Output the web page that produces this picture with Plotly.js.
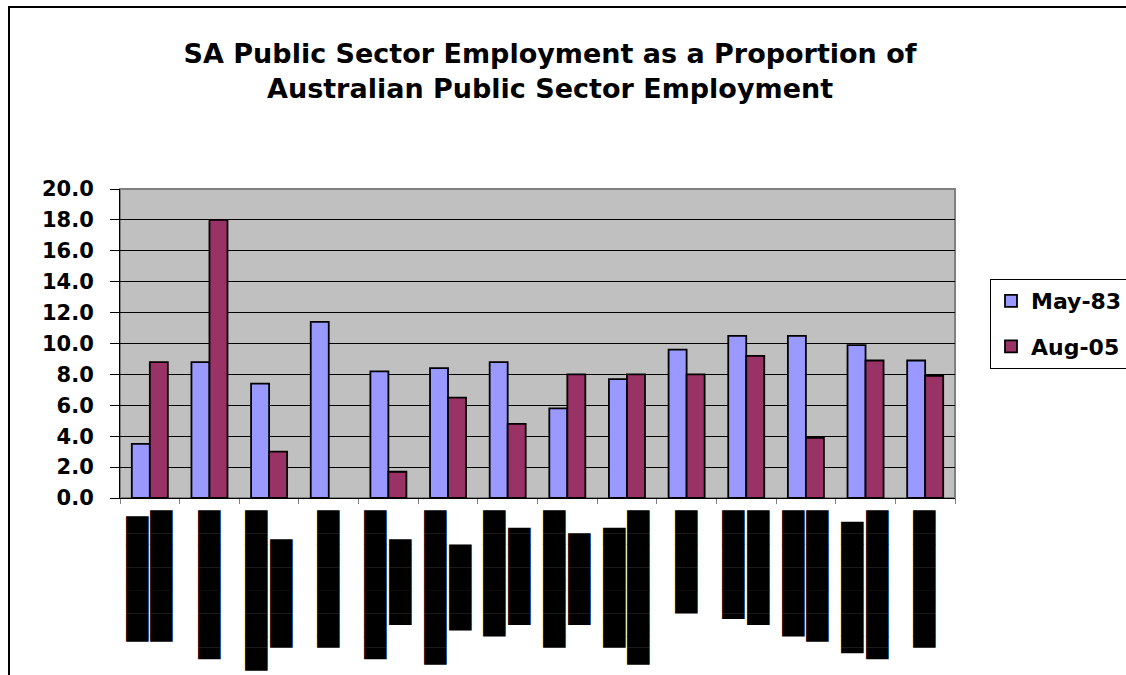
<!DOCTYPE html>
<html>
<head>
<meta charset="utf-8">
<script src="https://cdn.plot.ly/plotly-3.0.1.min.js"></script>
<style>
  html, body { margin: 0; padding: 0; background: #ffffff; overflow: hidden; }
  #chart { width: 1126px; height: 675px; position: relative; }
  #frame { position: absolute; left: 8px; top: 6px; width: 2000px; height: 2000px;
           border: 2px solid #000; pointer-events: none; }
</style>
</head>
<body>
<div id="chart"></div>
<div id="frame"></div>
<script>
// ---- data ----
var categories = ['c1','c2','c3','c4','c5','c6','c7','c8','c9','c10','c11','c12','c13','c14'];
var seriesNames = ['May-83', 'Aug-05'];
var may83 = [3.5, 8.8, 7.4, 11.4, 8.2, 8.4, 8.8, 5.8, 7.7, 9.6, 10.5, 10.5, 9.9, 8.9];
var aug05 = [8.8, 18.0, 3.0, null, 1.7, 6.5, 4.8, 8.0, 8.0, 8.0, 9.2, 3.9, 8.9, 7.9];
var yTickVals = [0, 2, 4, 6, 8, 10, 12, 14, 16, 18, 20];

// category labels are redacted in the source (shown as black blocks)
var F = '\u2588', L = '\u258C', R = '\u2590', N = '\u00A0';
var tickLabels = [
  R + F.repeat(10) + L + '<br>' + R + F.repeat(11),
  F.repeat(13),
  F.repeat(14) + '<br>' + F.repeat(9) + L + N + N,
  F.repeat(12),
  F.repeat(13) + '<br>' + F.repeat(7) + L + N + N,
  R + F.repeat(13) + '<br>' + R + F.repeat(7) + N + N + N,
  F.repeat(11) + '<br>' + F.repeat(8) + L + N,
  F.repeat(12) + '<br>' + F.repeat(8) + N + N,
  F.repeat(10) + L + N + '<br>' + R + F.repeat(13),
  F.repeat(9),
  R + F.repeat(9) + '<br>' + F.repeat(10),
  F.repeat(11) + '<br>' + R + F.repeat(11),
  R + F.repeat(11) + N + '<br>' + F.repeat(13),
  F.repeat(12)
];

var colors = ['#9999FF', '#993366'];

var traces = [may83, aug05].map(function (vals, i) {
  return {
    type: 'bar',
    name: seriesNames[i],
    x: categories,
    y: vals,
    legendgroup: 'g' + i,
    marker: { color: colors[i], line: { color: '#000000', width: 1.8 } },
    hoverinfo: 'x+y+name'
  };
});

var layout = {
  width: 1126,
  height: 675,
  paper_bgcolor: '#ffffff',
  plot_bgcolor: '#C0C0C0',
  margin: { l: 120, r: 171, t: 189, b: 177, pad: 0, autoexpand: false },
  barmode: 'group',
  bargap: 0.396,
  bargroupgap: 0,
  showlegend: true,
  title: {
    text: 'SA Public Sector Employment as a Proportion of<br>Australian Public Sector Employment',
    font: { family: 'DejaVu Sans', size: 27, color: '#000000', weight: 'bold' },
    xref: 'container', x: 0.4885, xanchor: 'center',
    yref: 'container', y: 1 - 63 / 675, yanchor: 'top'
  },
  font: { family: 'DejaVu Sans', color: '#000000' },
  xaxis: {
    type: 'category',
    tickmode: 'array',
    tickvals: categories,
    ticktext: tickLabels,
    tickangle: -90,
    tickson: 'boundaries',
    ticks: 'outside',
    ticklen: 5,
    tickcolor: '#808080',
    tickwidth: 1,
    tickfont: { family: 'DejaVu Sans Mono', size: 19, color: '#000000' },
    ticklabelstandoff: 4,
    showline: true,
    linecolor: '#000000',
    linewidth: 1,
    showgrid: false,
    zeroline: false,
    automargin: false,
    fixedrange: true
  },
  yaxis: {
    range: [0, 20],
    tickmode: 'array',
    tickvals: yTickVals,
    tickformat: '.1f',
    ticks: 'outside',
    ticklen: 9,
    tickcolor: '#000000',
    tickwidth: 1,
    tickfont: { family: 'DejaVu Sans', size: 21, color: '#000000', weight: 'bold' },
    ticklabelstandoff: 12,
    showline: true,
    linecolor: '#000000',
    linewidth: 1,
    showgrid: true,
    gridcolor: '#000000',
    gridwidth: 1,
    zeroline: false,
    automargin: false,
    fixedrange: true
  },
  legend: {
    xref: 'container', yref: 'container',
    x: 990 / 1126, xanchor: 'left',
    y: 1 - 279 / 675, yanchor: 'top',
    bgcolor: '#ffffff',
    bordercolor: '#000000',
    borderwidth: 1,
    font: { family: 'DejaVu Sans', size: 22, color: '#000000', weight: 'bold' },
    traceorder: 'grouped',
    tracegroupgap: 14
  },
  shapes: [{
    type: 'rect', xref: 'x domain', yref: 'y domain',
    x0: 0, x1: 1, y0: 0, y1: 1,
    line: { color: '#808080', width: 2 },
    fillcolor: 'rgba(0,0,0,0)',
    layer: 'below'
  }]
};

Plotly.newPlot('chart', traces, layout, { staticPlot: true, displayModeBar: false });
</script>
</body>
</html>
